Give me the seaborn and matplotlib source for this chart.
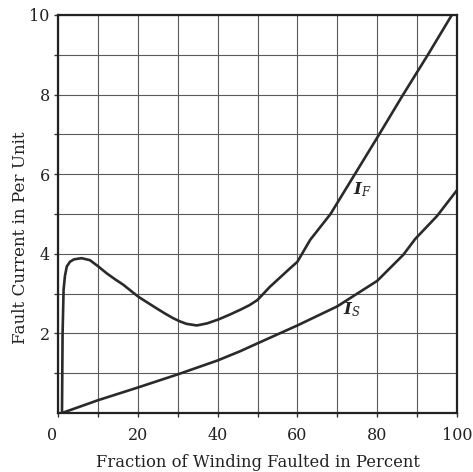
import matplotlib
matplotlib.use("Agg")
import matplotlib.pyplot as plt
import matplotlib.transforms as mtransforms
import numpy as np
import pandas as pd
import seaborn as sns

# Data
if_x = [1.0, 1.15, 1.4, 1.75, 2.2, 3.0, 4.0, 5.9, 8.0, 10.0, 12.2, 14.3, 16.4, 18.5,
        20.3, 22.5, 24.7, 26.8, 28.9, 30.6, 32.2, 34.8, 37.3, 40.2, 43.0, 45.6, 48.0,
        50.0, 53.1, 55.6, 58.1, 60.0, 63.2, 68.3, 74.4, 80.5, 86.5, 92.7, 98.7]
if_y = [0.0, 2.0, 3.1, 3.45, 3.68, 3.8, 3.86, 3.89, 3.84, 3.69, 3.51, 3.36, 3.22, 3.05,
        2.91, 2.77, 2.63, 2.5, 2.38, 2.3, 2.24, 2.2, 2.25, 2.35, 2.47, 2.59, 2.71,
        2.84, 3.17, 3.4, 3.63, 3.8, 4.35, 5.0, 6.0, 7.0, 8.0, 9.0, 10.0]

is_x = [1.0, 10.0, 20.0, 30.0, 40.0, 45.6, 50.0, 60.0, 70.0, 80.0, 86.5, 89.5, 95.0, 100.0]
is_y = [0.0, 0.32, 0.64, 0.97, 1.32, 1.55, 1.75, 2.2, 2.68, 3.32, 3.97, 4.37, 4.95, 5.6]

x_ticks = [0, 20, 40, 60, 80, 100]
y_ticks = [2, 4, 6, 8, 10]
x_label = "Fraction of Winding Faulted in Percent"
y_label = "Fault Current in Per Unit"

sns.set_theme(style="ticks")
plt.rcParams["font.family"] = ["DejaVu Serif"]
plt.rcParams["mathtext.fontset"] = "dejavuserif"

fig = plt.figure(figsize=(4.73, 4.72), dpi=100)
ax = fig.add_axes([58 / 473, 1 - 413 / 472, 399 / 473, 398 / 472])

df_f = pd.DataFrame({"x": if_x, "y": if_y})
df_s = pd.DataFrame({"x": is_x, "y": is_y})
sns.lineplot(data=df_f, x="x", y="y", ax=ax, color="#2a2a2a", lw=1.9,
             sort=False, estimator=None)
sns.lineplot(data=df_s, x="x", y="y", ax=ax, color="#2a2a2a", lw=1.9,
             sort=False, estimator=None)

ax.set_xlim(0, 100)
ax.set_ylim(0, 10)
ax.set_xticks(x_ticks)
ax.set_xticks([10, 30, 50, 70, 90], minor=True)
ax.set_yticks(y_ticks)
ax.set_yticks([1, 3, 5, 7, 9], minor=True)
ax.set_xticklabels([str(v) for v in x_ticks])
ax.set_yticklabels([str(v) for v in y_ticks])

ax.grid(True, which="both", color="#5a5a5a", lw=0.8)
ax.set_axisbelow(True)
for s in ax.spines.values():
    s.set_color("#222222")
    s.set_linewidth(1.6)

ax.tick_params(which="both", direction="out", length=3, width=1.0, color="#333333",
               labelsize=11.5, labelcolor="#222222", pad=3)
ax.tick_params(axis="x", which="both", pad=7)

# shift the "0" label left like the reference
lab0 = ax.get_xticklabels()[0]
lab0.set_transform(lab0.get_transform() + mtransforms.ScaledTranslation(-6 / 100, 0, fig.dpi_scale_trans))

ax.set_xlabel(x_label, fontsize=11.8, color="#222222", labelpad=7)
ax.set_ylabel(y_label, fontsize=12.1, color="#222222")
ax.yaxis.set_label_coords(-0.073, 0.44)

ax.text(76.2, 5.6, r"$\boldsymbol{I}_{\mathit{F}}$", fontsize=12, ha="center", va="center", color="#222222")
ax.text(73.7, 2.6, r"$\boldsymbol{I}_{\mathit{S}}$", fontsize=12, ha="center", va="center", color="#222222")

fig.savefig("out.png", dpi=100, facecolor="white")
